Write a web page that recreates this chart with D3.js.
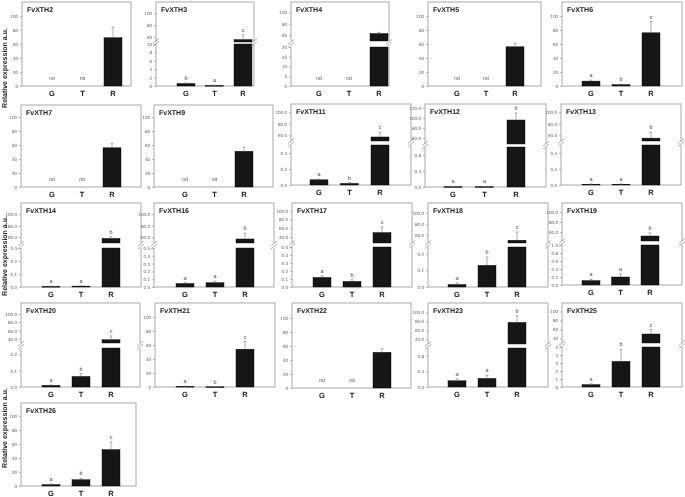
<!DOCTYPE html>
<html><head><meta charset="utf-8">
<script src="https://cdn.jsdelivr.net/npm/d3@7"></script>
<style>body{margin:0;background:#fff}svg{display:block;will-change:transform}text{text-rendering:geometricPrecision}</style>
</head><body><svg id="c" width="685" height="497"></svg>
<script>
// ---------------- DATA ----------------
const genes = ["FvXTH2","FvXTH3","FvXTH4","FvXTH5","FvXTH6",
               "FvXTH7","FvXTH9","FvXTH11","FvXTH12","FvXTH13",
               "FvXTH14","FvXTH16","FvXTH17","FvXTH18","FvXTH19",
               "FvXTH20","FvXTH21","FvXTH22","FvXTH23","FvXTH25",
               "FvXTH26"];
const categories = ["G","T","R"];
// null = not detected (nd)
const meanG = [null,0.6,null,null,7,   null,null,0.065,0.01,0.01,  0.005,0.045,0.12,0.015,0.11,  0.01,1,null,0.16,0.3,  2];
const meanT = [null,0.15,null,null,2,  null,null,0.02,0.01,0.01,   0.007,0.055,0.07,0.13,0.2,    0.065,0.3,null,0.22,3.2, 9];
const meanR = [69,56,63,56,76,         56,51,57,96,55,             58,57,50,50,52,               38,54,51,78,50,   52];
const errG  = [0,0.1,0,0,1.5,          0,0,0.01,0.004,0.004,       0.002,0.01,0.02,0.01,0.03,    0.003,0.3,0,0.05,0.1, 1];
const errT  = [0,0.05,0,0,0.5,         0,0,0.01,0.004,0.004,       0.002,0.02,0.02,0.05,0.08,    0.017,0.1,0,0.08,1.5, 2];
const errR  = [15,8,2,5,16,            6,6,8,14,10,                3,10,13,15,6,                 9,11,5,15,10,     11];
const letG  = [null,"b",null,null,"a", null,null,"a","a","a",      "a","a","a","a","a",          "a","a",null,"a","a", "a"];
const letT  = [null,"a",null,null,"b", null,null,"b","a","a",      "a","a","b","b","a",          "b","b",null,"a","b", "b"];
const letR  = [null,"c",null,null,"c", null,null,"c","b","b",      "b","b","c","c","b",          "c","c",null,"b","c", "c"];
// axis tick labels; upTicks null = continuous 0-100 axis
const lowTicks = [[0,20,40,60,80,100],[0,2,4,6,8,10],[0,5,10,15,20],[0,20,40,60,80,100],[0,20,40,60,80,100],
  [0,20,40,60,80,100],[0,20,40,60,80,100],[0,0.2,0.4],[0,0.4,0.8],[0,0.2,0.4],
  [0,0.1,0.2,0.3],[0,0.1,0.2,0.3,0.4,0.5],[0,0.1,0.2,0.3,0.4,0.5],[0,0.1,0.2],[0,0.2,0.4,0.6,0.8,1.0],
  [0,0.1,0.2],[0,20,40,60,80,100],[0,20,40,60,80,100],[0,0.4,0.8],[0,1,2,3,4,5],
  [0,20,40,60,80,100]];
const upTicks = [null,[60,80,100],[60,80,100],null,null,
  null,null,[60,80,100],[60,80,100,120],[60,80,100],
  [60,80,100],[60,80,100],[40,60,80,100],[60,80,100],[60,80,100],
  [40,60,80,100],null,null,[40,60,80,100],[40,60,80,100],
  null];
const lowMax = [null,10,20,null,null, null,null,0.5,1.0,0.5, 0.3,0.5,0.5,0.24,1.0, 0.24,null,null,1.0,5, null];
const upMin  = [null,52,50,null,null, null,null,50,48,50,    50,50,26,45,42,      30,null,null,30,30, null];
const decimals = [0,0,0,0,0, 0,0,1,1,1, 1,1,1,1,1, 1,0,0,1,0, 0];
const yTitle = "Relative expression a.u.";

// ---------------- LAYOUT (pixels) ----------------
const layout = [
 {x0:22,x1:131,top:2,axis:86,c0:30,step:30.5},
 {x0:156,x1:254,top:2,axis:86,c0:30,step:28.5,hLow:42,gap:2,upPx:0.6},
 {x0:291,x1:389,top:2,axis:86,c0:28,step:30,hLow:39,gap:6,upPx:0.575},
 {x0:428,x1:541,top:2,axis:86,c0:29,step:29},
 {x0:562,x1:682,top:2,axis:86,c0:29,step:30},
 {x0:21,x1:141,top:105,axis:187,c0:31,step:30},
 {x0:154,x1:273,top:105,axis:187,c0:31,step:29.5},
 {x0:291,x1:411,top:104,axis:185,c0:28,step:30.5,hLow:40,gap:4,upPx:0.575},
 {x0:425,x1:546,top:104,axis:187,c0:28,step:31.5,hLow:40,gap:3,upPx:0.5},
 {x0:561,x1:681,top:104,axis:185,c0:30,step:30,hLow:40,gap:4,upPx:0.575},
 {x0:21,x1:141,top:203,axis:287,c0:30,step:30,hLow:39,gap:5,upPx:0.575},
 {x0:154,x1:274,top:203,axis:287,c0:31,step:30,hLow:39,gap:5,upPx:0.575},
 {x0:292,x1:412,top:203,axis:287,c0:30,step:30,hLow:40,gap:4,upPx:0.435},
 {x0:428,x1:548,top:203,axis:287,c0:29,step:30,hLow:40,gap:4,upPx:0.55},
 {x0:562,x1:682,top:203,axis:285,c0:29,step:29.5,hLow:40,gap:4,upPx:0.5},
 {x0:21,x1:140,top:303,axis:387,c0:30,step:30,hLow:39,gap:5,upPx:0.415},
 {x0:155,x1:275,top:303,axis:387,c0:30,step:30},
 {x0:292,x1:411,top:303,axis:388,c0:30,step:30},
 {x0:428,x1:548,top:303,axis:387,c0:29,step:30,hLow:39,gap:4,upPx:0.45},
 {x0:562,x1:682,top:303,axis:387,c0:29,step:30,hLow:40,gap:4,upPx:0.45},
 {x0:21,x1:136,top:403,axis:486,c0:30,step:30}
];
const titlePos = [{x:7,y:68},{x:7,y:256},{x:7,y:428}];

const svg = d3.select("#c");
const FONT = "'Liberation Sans', Arial, sans-serif";
const boxCol = "#a9a9a9", barCol = "#161616", txtCol = "#222";

genes.forEach((gene,i)=>{
  const L = layout[i];
  const g = svg.append("g");
  const x = d3.scalePoint().domain(categories).range([L.x0+L.c0, L.x0+L.c0+2*L.step]);
  const bw = 18;
  const broken = upTicks[i] !== null;
  let yv, yLow, yUp;
  if (!broken) {
    yLow = d3.scaleLinear().domain([0,100]).range([L.axis, L.axis-70]);
    yv = v => yLow(v);
  } else {
    yLow = d3.scaleLinear().domain([0,lowMax[i]]).range([L.axis, L.axis-L.hLow]);
    const ub = L.axis - L.hLow - L.gap;
    yUp = d3.scaleLinear().domain([upMin[i], upMin[i] + (ub-L.top)/L.upPx]).range([ub, L.top]);
    yv = v => v <= lowMax[i] ? yLow(v) : yUp(Math.max(v, upMin[i]));
  }
  g.append("rect").attr("x",L.x0).attr("y",L.top).attr("width",L.x1-L.x0).attr("height",L.axis-L.top)
    .attr("fill","none").attr("stroke",boxCol).attr("stroke-width",1);
  const fmt = d => decimals[i] ? d3.format(".1f")(d) : d3.format("d")(d);
  const drawAxis = (sc, ticks) => {
    const a = g.append("g").attr("transform",`translate(${L.x0},0)`)
      .call(d3.axisLeft(sc).tickValues(ticks).tickSize(2).tickPadding(2).tickFormat(fmt));
    a.select(".domain").remove();
    a.selectAll("line").attr("stroke","#8a8a8a").attr("stroke-width",0.6);
    a.selectAll("text").attr("font-family",FONT).attr("font-size",4.6).attr("fill","#666");
  };
  drawAxis(yLow, lowTicks[i]);
  if (broken) drawAxis(yUp, upTicks[i]);
  const means = [meanG[i], meanT[i], meanR[i]];
  const errs = [errG[i], errT[i], errR[i]];
  const lets = [letG[i], letT[i], letR[i]];
  categories.forEach((c,k)=>{
    const v = means[k], cx = x(c);
    if (v === null) {
      g.append("text").attr("x",cx).attr("y",L.axis-6).attr("text-anchor","middle")
        .attr("font-family",FONT).attr("font-size",5).attr("fill","#555").text("nd");
      return;
    }
    if (!broken || v <= lowMax[i]) {
      g.append("rect").attr("x",cx-bw/2).attr("y",yv(v)).attr("width",bw).attr("height",Math.max(0.8,L.axis-yv(v)))
        .attr("fill",barCol).attr("stroke","#000").attr("stroke-width",0.4);
    } else {
      g.append("rect").attr("x",cx-bw/2).attr("y",yLow(lowMax[i])).attr("width",bw).attr("height",L.axis-yLow(lowMax[i]))
        .attr("fill",barCol).attr("stroke","#000").attr("stroke-width",0.4);
      g.append("rect").attr("x",cx-bw/2).attr("y",yUp(v)).attr("width",bw).attr("height",yUp(upMin[i])-yUp(v))
        .attr("fill",barCol).attr("stroke","#000").attr("stroke-width",0.4);
    }
    const e = errs[k];
    let topY = yv(v);
    if (e > 0) {
      const ey = yv(v+e);
      g.append("line").attr("x1",cx).attr("x2",cx).attr("y1",yv(v)).attr("y2",ey).attr("stroke","#777").attr("stroke-width",0.6);
      g.append("line").attr("x1",cx-1.5).attr("x2",cx+1.5).attr("y1",ey).attr("y2",ey).attr("stroke","#777").attr("stroke-width",0.6);
      topY = ey;
    }
    if (lets[k]) {
      g.append("text").attr("x",cx).attr("y",topY-3).attr("text-anchor","middle")
        .attr("font-family",FONT).attr("font-size",5.5).attr("fill","#444").text(lets[k]);
    }
  });
  if (broken) {
    const yb = L.axis - L.hLow - L.gap/2;
    [L.x0, L.x1].forEach(xx=>{
      g.append("rect").attr("x",xx-1).attr("y",yb-L.gap/2).attr("width",2).attr("height",L.gap).attr("fill","#fff");
      [-1.5,1.5].forEach(o=>{
        g.append("line").attr("x1",xx-3).attr("y1",yb+o+2).attr("x2",xx+3).attr("y2",yb+o-3)
          .attr("stroke","#777").attr("stroke-width",0.6);
      });
    });
  }
  categories.forEach(c=>{
    g.append("text").attr("x",x(c)).attr("y",L.axis+10).attr("text-anchor","middle")
      .attr("font-family",FONT).attr("font-size",7.5).attr("font-weight","bold").attr("fill",txtCol).text(c);
  });
  g.append("text").attr("x",L.x0+5).attr("y",L.top+10).attr("font-family",FONT).attr("font-size",7)
    .attr("font-weight","bold").attr("fill",txtCol).text(gene);
});

titlePos.forEach(p=>{
  svg.append("text").attr("transform",`translate(${p.x},${p.y}) rotate(-90)`).attr("text-anchor","middle")
    .attr("font-family",FONT).attr("font-size",7).attr("font-weight","bold").attr("fill",txtCol).text(yTitle);
});
</script></body></html>
